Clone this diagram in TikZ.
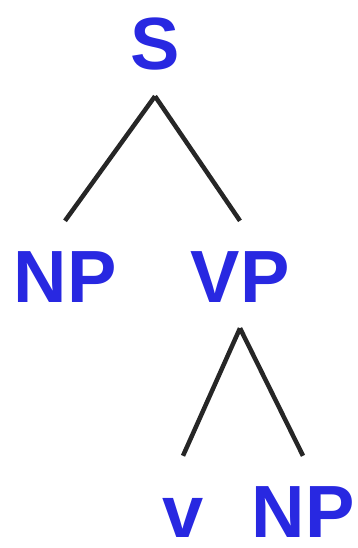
\documentclass[tikz,border=0pt]{standalone}
\usepackage{fontspec}
\setmainfont{Liberation Sans}
\usepackage{xcolor}
\usepackage{tikz}
\usetikzlibrary{positioning}

\definecolor{catblue}{RGB}{40,40,225}

\begin{document}
\begin{tikzpicture}[
  x=1pt, y=-1pt,
  cat/.style={text=catblue, font=\fontsize{74}{80}\selectfont\bfseries, anchor=base,
    text height=55pt, text depth=0pt, inner xsep=0pt, inner ysep=26pt},
  branch/.style={line width=4.5pt, draw=black!85}
]
\useasboundingbox (0,0) rectangle (357,548);

\node[cat] (s) at (155,70) {S};
\node[cat] (np) at (65,302) {NP};
\node[cat] (vp) at (240,302) {VP};
\node[cat] (v) at (183,537) {v};
\node[cat] (obj) at (303,537) {NP};

\draw[branch] (s.south) -- (np.north);
\draw[branch] (s.south) -- (vp.north);
\draw[branch] (vp.south) -- (v.north);
\draw[branch] (vp.south) -- (obj.north);
\end{tikzpicture}
\end{document}
